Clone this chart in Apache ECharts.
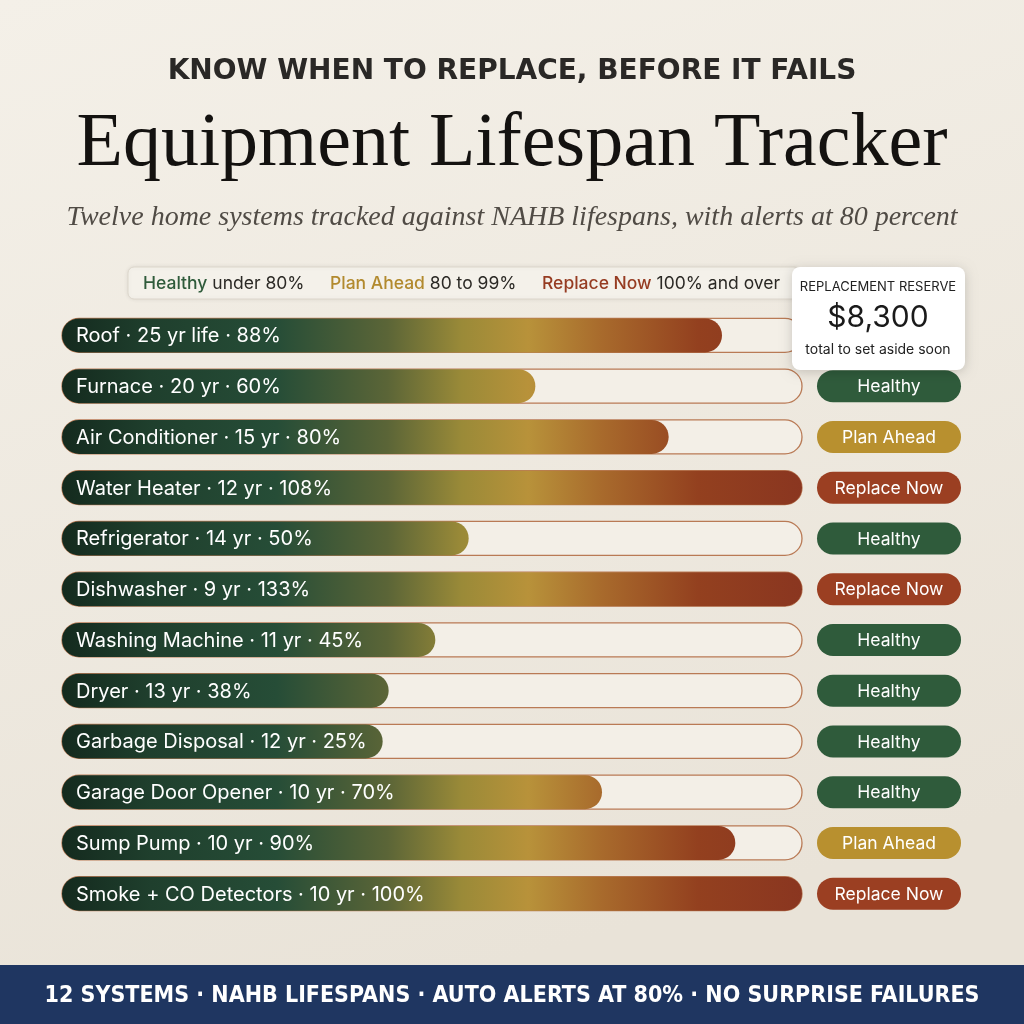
<!DOCTYPE html>
<html>
<head>
<meta charset="utf-8">
<script src="https://cdn.jsdelivr.net/npm/echarts@6/dist/echarts.min.js"></script>
<style>
  html, body { margin: 0; padding: 0; background: #f1ece3; }
  #main { width: 1024px; height: 1024px; }
</style>
</head>
<body>
<div id="main"></div>
<script>
// chart data
var systems = ['Roof', 'Furnace', 'Air Conditioner', 'Water Heater', 'Refrigerator', 'Dishwasher',
  'Washing Machine', 'Dryer', 'Garbage Disposal', 'Garage Door Opener', 'Sump Pump', 'Smoke + CO Detectors'];
var lifeYears = [25, 20, 15, 12, 14, 9, 11, 13, 12, 10, 10, 10];
var usedPct = [88, 60, 80, 108, 50, 133, 45, 38, 25, 70, 90, 100];
var reserveTotal = '$8,300';

var statusNames = ['Healthy', 'Plan Ahead', 'Replace Now'];
var statusColors = ['#2f5b3b', '#b8902f', '#9b3f22'];
function statusOf(p) { return p >= 100 ? 2 : (p >= 80 ? 1 : 0); }

var axisMin = -11, axisMax = 100;
var labelFont = '20px Inter';
var measure = document.createElement('canvas').getContext('2d');
measure.font = labelFont;

var labels = systems.map(function (name, i) {
  return name + ' · ' + lifeYears[i] + (i === 0 ? ' yr life' : ' yr') + ' · ' + usedPct[i] + '%';
});
var barData = usedPct.map(function (p, i) { return [Math.min(p, axisMax), i]; });

// fill colour runs across the whole track, so short bars only show the green end
var gradStops = [
  { offset: 0, color: '#142a1e' },
  { offset: 0.12, color: '#1f3f2d' },
  { offset: 0.29, color: '#264d37' },
  { offset: 0.44, color: '#5b6537' },
  { offset: 0.54, color: '#9a8a38' },
  { offset: 0.63, color: '#b8923a' },
  { offset: 0.73, color: '#a86a2c' },
  { offset: 0.86, color: '#93401f' },
  { offset: 1, color: '#8a3620' }
];

function renderRow(params, api) {
  var idx = api.value(1);
  var start = api.coord([axisMin, idx]);
  var end = api.coord([api.value(0), idx]);
  var full = api.coord([axisMax, idx]);
  var h = 34;
  var y = start[1] - h / 2;
  var label = labels[idx];
  var minEnd = start[0] + measure.measureText(label).width + 30;
  var x2 = Math.max(end[0], minEnd);
  var s = statusOf(usedPct[idx]);
  return {
    type: 'group',
    children: [
      { type: 'rect', shape: { x: start[0], y: y, width: full[0] - start[0], height: h, r: h / 2 },
        style: { fill: '#f3efe7', stroke: '#b97a55', lineWidth: 1.3 } },
      { type: 'rect', shape: { x: start[0], y: y, width: x2 - start[0], height: h, r: h / 2 },
        style: { fill: { type: 'linear', x: start[0], y: 0, x2: full[0], y2: 0, global: true, colorStops: gradStops } } },
      { type: 'text', style: { text: label, x: start[0] + 14, y: start[1] + 1, verticalAlign: 'middle',
        fill: '#ffffff', font: labelFont } },
      { type: 'rect', shape: { x: 817, y: start[1] - 16, width: 144, height: 32, r: 16 },
        style: { fill: statusColors[s] } },
      { type: 'text', style: { text: statusNames[s], x: 889, y: start[1] + 1, align: 'center',
        verticalAlign: 'middle', fill: '#ffffff', font: '17.5px Inter' } }
    ]
  };
}

var myChart = echarts.init(document.getElementById('main'));

var option = {
  backgroundColor: new echarts.graphic.LinearGradient(0, 0, 0.3, 1, [
    { offset: 0, color: '#f4f0e8' },
    { offset: 1, color: '#e9e3d8' }
  ]),
  animation: false,
  grid: { left: 62, right: 222, top: 310, bottom: 105 },
  xAxis: { type: 'value', min: axisMin, max: axisMax, show: false },
  yAxis: { type: 'category', data: systems, inverse: true, show: false },
  series: [{
    type: 'custom',
    renderItem: renderRow,
    encode: { x: 0, y: 1 },
    data: barData
  }],
  graphic: [
    { type: 'text', x: 512, y: 72, style: { text: 'KNOW WHEN TO REPLACE, BEFORE IT FAILS', align: 'center',
      verticalAlign: 'middle', fill: '#2a2826', font: 'bold 28px "DejaVu Sans"' } },
    { type: 'text', x: 512, y: 145, style: { text: 'Equipment Lifespan Tracker', align: 'center',
      verticalAlign: 'middle', fill: '#141210', font: '76px "Liberation Serif"' } },
    { type: 'text', x: 512, y: 218, style: { text: 'Twelve home systems tracked against NAHB lifespans, with alerts at 80 percent',
      align: 'center', verticalAlign: 'middle', fill: '#504b45', font: 'italic 28px "Liberation Serif"' } },

    // legend strip
    { type: 'rect', shape: { x: 128, y: 267, width: 672, height: 32, r: 6 },
      style: { fill: '#f4f1ea', stroke: '#ddd7cc', lineWidth: 1, shadowBlur: 4, shadowColor: 'rgba(0,0,0,0.08)' } },
    { type: 'text', x: 143, y: 284, style: { text: '{g|Healthy} under 80%', verticalAlign: 'middle', fill: '#2b2925',
      font: '17.5px Inter', rich: { g: { fill: '#2f5b3b', font: '500 17.5px Inter' } } } },
    { type: 'text', x: 330, y: 284, style: { text: '{y|Plan Ahead} 80 to 99%', verticalAlign: 'middle', fill: '#2b2925',
      font: '17.5px Inter', rich: { y: { fill: '#b28a2e', font: '500 17.5px Inter' } } } },
    { type: 'text', x: 542, y: 284, style: { text: '{r|Replace Now} 100% and over', verticalAlign: 'middle', fill: '#2b2925',
      font: '17.5px Inter', rich: { r: { fill: '#963c22', font: '500 17.5px Inter' } } } },

    // reserve card
    { type: 'rect', z: 100, shape: { x: 792, y: 267, width: 173, height: 103, r: 8 },
      style: { fill: '#ffffff', shadowBlur: 12, shadowOffsetY: 2, shadowColor: 'rgba(0,0,0,0.18)' } },
    { type: 'text', z: 101, x: 878, y: 287, style: { text: 'REPLACEMENT RESERVE', align: 'center', verticalAlign: 'middle',
      fill: '#222', font: '13px Inter' } },
    { type: 'text', z: 101, x: 878, y: 318, style: { text: reserveTotal, align: 'center', verticalAlign: 'middle',
      fill: '#1a1a1a', font: '30px Inter' } },
    { type: 'text', z: 101, x: 878, y: 350, style: { text: 'total to set aside soon', align: 'center', verticalAlign: 'middle',
      fill: '#222', font: '14px Inter' } },

    // footer band
    { type: 'rect', shape: { x: 0, y: 965, width: 1024, height: 59 }, style: { fill: '#1f3661' } },
    { type: 'text', x: 512, y: 996, style: { text: '12 SYSTEMS · NAHB LIFESPANS · AUTO ALERTS AT 80% · NO SURPRISE FAILURES',
      align: 'center', verticalAlign: 'middle', fill: '#ffffff', font: 'bold 23px "DejaVu Sans Condensed", "Roboto Condensed", Roboto' } }
  ]
};

myChart.setOption(option);
</script>
</body>
</html>
